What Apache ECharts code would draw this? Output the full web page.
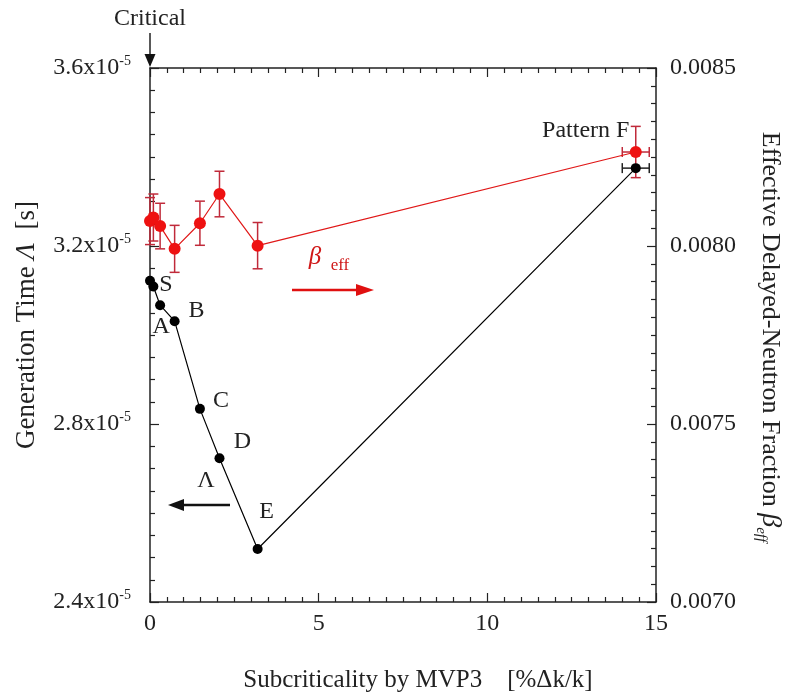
<!DOCTYPE html>
<html><head><meta charset="utf-8">
<script src="https://cdn.jsdelivr.net/npm/echarts@6/dist/echarts.min.js"></script>
<style>html,body{margin:0;padding:0;background:#fff}#c{width:785px;height:695px}</style>
</head><body><div id="c"></div>
<script>
// Subcriticality by MVP3 [%dk/k]
const xValues = [0, 0.1, 0.3, 0.73, 1.48, 2.06, 3.19, 14.4];
// Generation time, in units of 1e-5 s
const lambdaValues = [3.122, 3.109, 3.067, 3.031, 2.834, 2.723, 2.519, 3.375];
// Effective delayed neutron fraction
const betaValues = [0.00807, 0.00808, 0.008056, 0.007992, 0.008064, 0.008146, 0.008001, 0.008264];
const betaErr = [0.000066, 0.000066, 0.000064, 0.000066, 0.000062, 0.000064, 0.000065, 0.000072];
const xErr = [0, 0, 0, 0, 0, 0, 0, 0.4];
const pointLabels = ['S', '', 'A', 'B', 'C', 'D', 'E', 'Pattern F'];
const xTicks = [0, 5, 10, 15];
const lambdaTicks = [2.4, 2.8, 3.2, 3.6];
const betaTicks = [0.0070, 0.0075, 0.0080, 0.0085];

const FONT = 'Liberation Serif';
const TICK_FS = 24;
const labelOffsets = [[16, 4], [0, 0], [1, 22], [22, -11], [21, -8], [23, -17], [9, -37], [-50, -37]];

const chart = echarts.init(document.getElementById('c'), null, {renderer: 'canvas'});

function axisCommon(extra) {
  return Object.assign({
    type: 'value',
    axisLine: {show: true, onZero: false, lineStyle: {color: '#222', width: 1.5}},
    axisTick: {show: true, inside: true, length: 9, lineStyle: {color: '#222', width: 1.2}},
    minorTick: {show: true, length: 5, lineStyle: {color: '#222', width: 1.2}},
    splitLine: {show: false},
    axisLabel: {fontFamily: FONT, fontSize: TICK_FS, color: '#222'}
  }, extra);
}

const blackData = xValues.map((x, i) => ({
  value: [x, lambdaValues[i]],
  label: {show: pointLabels[i] !== '', formatter: pointLabels[i], position: 'inside',
          offset: labelOffsets[i], fontFamily: FONT, fontSize: 24, color: '#222'}
}));
const redData = xValues.map((x, i) => [x, betaValues[i]]);
const redErrData = xValues.map((x, i) => [x, betaValues[i], betaErr[i], xErr[i]]);
const blackErrData = xValues.map((x, i) => [x, lambdaValues[i], 0, xErr[i]]).filter(d => d[3] > 0);

function errRender(color) {
  return function (params, api) {
    const x = api.value(0), y = api.value(1), ey = api.value(2), ex = api.value(3);
    const c = api.coord([x, y]);
    const children = [];
    const style = {stroke: color, lineWidth: 1.5};
    const cap = 5;
    if (ey > 0) {
      const t = api.coord([x, y + ey]), b = api.coord([x, y - ey]);
      children.push({type: 'line', shape: {x1: c[0], y1: t[1], x2: c[0], y2: b[1]}, style});
      children.push({type: 'line', shape: {x1: c[0] - cap, y1: t[1], x2: c[0] + cap, y2: t[1]}, style});
      children.push({type: 'line', shape: {x1: c[0] - cap, y1: b[1], x2: c[0] + cap, y2: b[1]}, style});
    }
    if (ex > 0) {
      const l = api.coord([x - ex, y]), r = api.coord([x + ex, y]);
      children.push({type: 'line', shape: {x1: l[0], y1: c[1], x2: r[0], y2: c[1]}, style});
      children.push({type: 'line', shape: {x1: l[0], y1: c[1] - cap, x2: l[0], y2: c[1] + cap}, style});
      children.push({type: 'line', shape: {x1: r[0], y1: c[1] - cap, x2: r[0], y2: c[1] + cap}, style});
    }
    return {type: 'group', children};
  };
}

const option = {
  backgroundColor: '#fff',
  animation: false,
  grid: {left: 150, right: 129, top: 68, bottom: 93},
  xAxis: [
    axisCommon({min: xTicks[0], max: xTicks[xTicks.length - 1], interval: 5, position: 'bottom',
      minorTick: {show: true, splitNumber: 10, length: 5, lineStyle: {color: '#222', width: 1.2}},
      axisLabel: {fontFamily: FONT, fontSize: TICK_FS, color: '#222', margin: 10}}),
    axisCommon({min: xTicks[0], max: xTicks[xTicks.length - 1], interval: 5, position: 'top',
      minorTick: {show: true, splitNumber: 10, length: 5, lineStyle: {color: '#222', width: 1.2}},
      axisLabel: {show: false}})
  ],
  yAxis: [
    axisCommon({min: lambdaTicks[0], max: lambdaTicks[lambdaTicks.length - 1], interval: 0.4, position: 'left',
      minorTick: {show: true, splitNumber: 8, length: 5, lineStyle: {color: '#222', width: 1.2}},
      axisLabel: {margin: 19, formatter: v => '{m|' + v.toFixed(1) + 'x10}{s|-5}',
        rich: {m: {fontFamily: FONT, fontSize: TICK_FS, color: '#222', lineHeight: 28},
               s: {fontFamily: FONT, fontSize: 14, color: '#222', lineHeight: 28, verticalAlign: 'top'}}}}),
    axisCommon({min: betaTicks[0], max: betaTicks[betaTicks.length - 1], interval: 0.0005, position: 'right',
      minorTick: {show: true, splitNumber: 10, length: 5, lineStyle: {color: '#222', width: 1.2}},
      axisLabel: {fontFamily: FONT, fontSize: 24, color: '#222', margin: 14, formatter: v => v.toFixed(4)}})
  ],
  series: [
    {type: 'custom', name: 'betaErr', xAxisIndex: 0, yAxisIndex: 1, renderItem: errRender('#c02a3a'),
     data: redErrData, z: 2, encode: {x: 0, y: 1}},
    {type: 'custom', name: 'lambdaErr', xAxisIndex: 0, yAxisIndex: 0, renderItem: errRender('#222'),
     data: blackErrData, z: 2, encode: {x: 0, y: 1}},
    {type: 'line', name: 'beta', xAxisIndex: 0, yAxisIndex: 1, data: redData,
     symbol: 'circle', symbolSize: 12, itemStyle: {color: '#ee1111'},
     lineStyle: {color: '#e01818', width: 1.2}, z: 3},
    {type: 'line', name: 'Lambda', xAxisIndex: 0, yAxisIndex: 0, data: blackData,
     symbol: 'circle', symbolSize: 10, itemStyle: {color: '#000'},
     lineStyle: {color: '#000', width: 1.2}, z: 4}
  ],
  graphic: [
    // Critical marker
    {type: 'text', style: {text: 'Critical', x: 150, y: 19, textAlign: 'center', textVerticalAlign: 'middle',
      font: '24px "Liberation Serif"', fill: '#222'}},
    {type: 'line', shape: {x1: 150, y1: 33, x2: 150, y2: 56}, style: {stroke: '#222', lineWidth: 1.5}},
    {type: 'polygon', shape: {points: [[144.5, 54], [155.5, 54], [150, 67]]}, style: {fill: '#111'}},
    // Lambda arrow
    {type: 'text', style: {text: 'Λ', x: 206, y: 481, textAlign: 'center', textVerticalAlign: 'middle',
      font: '24px "Liberation Serif"', fill: '#222'}},
    {type: 'line', shape: {x1: 230, y1: 505, x2: 180, y2: 505}, style: {stroke: '#111', lineWidth: 2.5}},
    {type: 'polygon', shape: {points: [[168, 505], [184, 499], [184, 511]]}, style: {fill: '#111'}},
    // beta arrow
    {type: 'text', style: {text: 'β', x: 315, y: 257, textAlign: 'center', textVerticalAlign: 'middle',
      font: 'italic 25px "Liberation Serif"', fill: '#d01818'}},
    {type: 'text', style: {text: 'eff', x: 340, y: 266, textAlign: 'center', textVerticalAlign: 'middle',
      font: '17px "Liberation Serif"', fill: '#d01818'}},
    {type: 'line', shape: {x1: 292, y1: 290, x2: 358, y2: 290}, style: {stroke: '#e01010', lineWidth: 2.5}},
    {type: 'polygon', shape: {points: [[374, 290], [356, 284], [356, 296]]}, style: {fill: '#e01010'}},
    // axis titles
    {type: 'text', style: {text: 'Subcriticality by MVP3    [%Δk/k]', x: 418, y: 680, textAlign: 'center',
      textVerticalAlign: 'middle', font: '25px "Liberation Serif"', fill: '#222'}},
    {type: 'group', x: 27, y: 325, rotation: Math.PI / 2, children: [
      {type: 'text', style: {text: '{a|Generation Time }{b|Λ}{a|  [s]}', x: 0, y: 0, textAlign: 'center',
        textVerticalAlign: 'middle', rich: {
          a: {fontFamily: FONT, fontSize: 27, fill: '#222'},
          b: {fontFamily: FONT, fontSize: 27, fontStyle: 'italic', fill: '#222'}}}}
    ]},
    {type: 'group', x: 770, y: 337, rotation: -Math.PI / 2, children: [
      {type: 'text', style: {text: '{a|Effective Delayed-Neutron Fraction }{b|β}{c|eff}', x: 0, y: 0, textAlign: 'center',
        textVerticalAlign: 'middle', rich: {
          a: {fontFamily: FONT, fontSize: 26, fill: '#222', lineHeight: 34},
          b: {fontFamily: FONT, fontSize: 28, fontStyle: 'italic', fill: '#222', lineHeight: 34},
          c: {fontFamily: FONT, fontSize: 15, fontStyle: 'italic', fill: '#222', lineHeight: 34, verticalAlign: 'bottom'}}}}
    ]}
  ]
};
chart.setOption(option);
</script>
</body></html>
